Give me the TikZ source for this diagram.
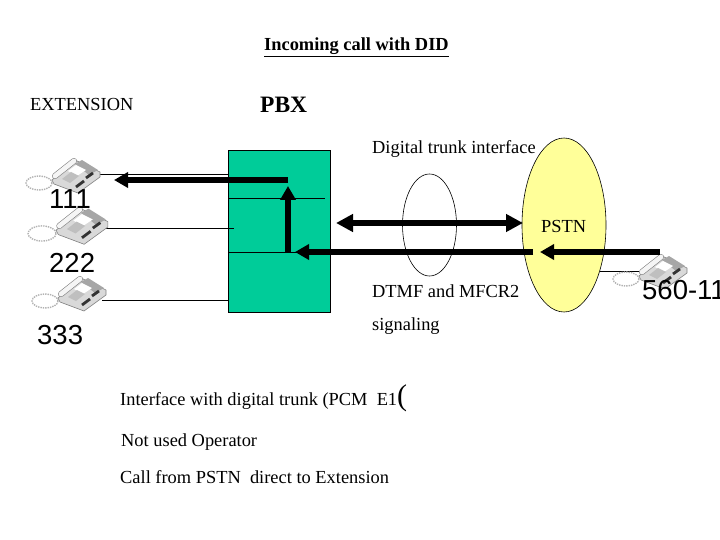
\documentclass[tikz,border=0pt]{standalone}
\usepackage{fontspec}
\setmainfont{Liberation Serif}
\setsansfont{Liberation Sans}
\usetikzlibrary{shapes.geometric,arrows.meta}
\definecolor{pbxgreen}{RGB}{0,204,153}
\definecolor{pstnyellow}{RGB}{255,255,153}
\tikzset{
  txt/.style={anchor=west,inner sep=0pt,font=\fontsize{18.4}{20}\selectfont},
  num/.style={anchor=west,inner sep=0pt,font=\sffamily\fontsize{27.5}{30}\selectfont},
  wire/.style={draw=black,line width=0.8pt},
  fat/.style={line width=6pt,-{Triangle[length=14pt,width=15pt]}},
  fatboth/.style={line width=6pt,{Triangle[length=17pt,width=17pt]}-{Triangle[length=17pt,width=17pt]}},
  phone/.pic={
    % cord
    \draw[gray!60,line width=1.4pt,densely dotted] (-37,6) ellipse (13 and 7);
    % base
    \filldraw[draw=gray,fill=gray!30,line width=0.6pt] (-24,3) -- (-1,-17) -- (24,-5) -- (24,0) -- (2,16) -- (-22,7) -- cycle;
    % panel and keys
    \fill[gray!70] (-1,-13) -- (6,-17) -- (22,-7) -- (13,-2) -- cycle;
    \fill[white] (-8,-6) -- (0,-12) -- (10,-7) -- (1,-1) -- cycle;
    \fill[gray!50] (-14,2) -- (-5,-5) -- (3,-1) -- (-6,6) -- cycle;
    \draw[black!80,line width=2.8pt] (0,10) -- (8,4);
    \draw[black!80,line width=2.8pt] (10,1) -- (17,-4);
    % handset
    \draw[gray,line width=6pt,line cap=round] (-21,-1) -- (-2,-16);
    \draw[gray!8,line width=4.8pt,line cap=round] (-21,-1) -- (-2,-16);
  }
}
\begin{document}
\begin{tikzpicture}[x=1pt,y=-1pt]
\useasboundingbox (0,0) rectangle (720,540);
% pstn and trunk
\node[ellipse,draw,fill=pstnyellow,line width=0.6pt,inner sep=0pt,minimum width=84pt,minimum height=174pt] (pstn) at (564,225) {};
\node[ellipse,draw,line width=0.6pt,inner sep=0pt,minimum width=54pt,minimum height=102pt] (trunk) at (429.5,225) {};
% pbx
\node[rectangle,draw,fill=pbxgreen,line width=0.8pt,inner sep=0pt,minimum width=102pt,minimum height=162pt] (pbx) at (279.5,231) {};
\coordinate (lineA) at (325,198);
\coordinate (lineB) at (330,252);
\coordinate (wireA) at (100,174);
\coordinate (wireB) at (105,228);
\coordinate (wireC) at (102,300);
\coordinate (wireD) at (640,271);
\coordinate (endB) at (234,228);
\coordinate (endD) at (600,271);
\draw[wire] (pbx.west |- lineA) -- (lineA);
\draw[wire] (pbx.west |- lineB) -- (lineB);
\draw[wire] (wireA) -- (pbx.west |- wireA);
\draw[wire] (wireB) -- (endB);
\draw[wire] (wireC) -- (pbx.west |- wireC);
\draw[wire] (endD) -- (wireD);
% phones
\pic at (76,177) {phone};
\pic[scale=1.08] at (82,227) {phone};
\pic at (82,295) {phone};
\pic at (663,273) {phone};
% arrows
\coordinate (cornerA) at (288,180);
\coordinate (tipA) at (114,180);
\coordinate (cornerB) at (288,252);
\coordinate (tipB) at (288,186);
\coordinate (tipC) at (295,252);
\coordinate (tailC) at (533,252);
\coordinate (tipD) at (540,252);
\coordinate (tailD) at (660,252);
\coordinate (tipE) at (336,223);
\coordinate (tipF) at (523,223);
\draw[fat] (cornerA) -- (tipA);
\draw[fat] (cornerB) -- (tipB);
\draw[fat] (tailC) -- (tipC);
\draw[fat] (tailD) -- (tipD);
\draw[fatboth] (tipE) -- (tipF);
% texts
\node[txt,font=\bfseries\fontsize{18.4}{20}\selectfont] (title) at (264,47) {\underline{Incoming call with DID}};
\node[txt] (extension) at (30,105) {EXTENSION};
\node[txt,font=\bfseries\fontsize{23.5}{26}\selectfont] (pbxlabel) at (260,105) {PBX};
\node[txt] (digital) at (372,149) {Digital trunk interface};
\node[txt] (pstnlabel) at (541,226) {PSTN};
\node[txt] (dtmf) at (372,291) {DTMF and MFCR2};
\node[txt] (signaling) at (372,326) {signaling};
\node[txt] (iface) at (120,398) {Interface with digital trunk (PCM\ \ E1{\fontsize{30}{30}\selectfont(}};
\node[txt] (operator) at (121,442) {Not used Operator};
\node[txt] (call) at (120,477) {Call from PSTN\ \ direct to Extension};
\node[num] (n111) at (49,199) {111};
\node[num] (n222) at (49,263) {222};
\node[num] (n333) at (37,335) {333};
\node[num] (n560) at (642,290) {560-11};
\end{tikzpicture}
\end{document}
